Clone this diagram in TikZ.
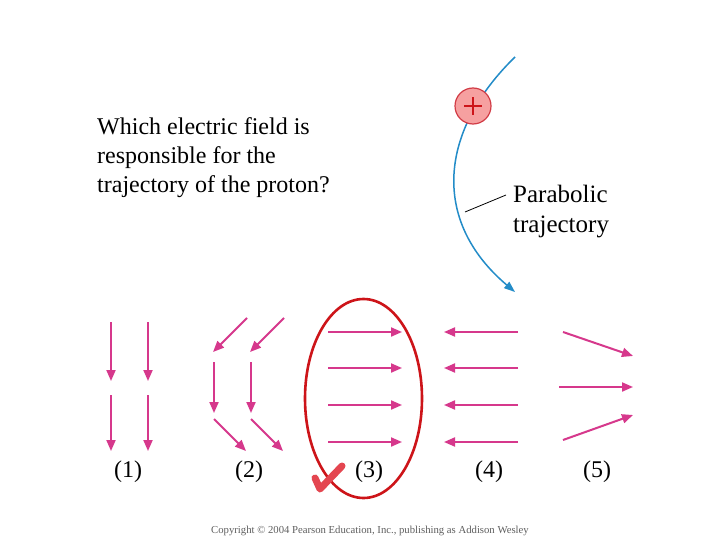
\documentclass[tikz,border=0pt]{standalone}
\usepackage{fontspec}
\setmainfont{Liberation Serif}
\usetikzlibrary{arrows.meta,shapes.geometric}
\definecolor{fieldc}{RGB}{214,56,140}
\definecolor{trajc}{RGB}{35,140,200}
\definecolor{ringc}{RGB}{205,20,25}
\definecolor{protfill}{RGB}{246,160,160}
\definecolor{protline}{RGB}{210,60,70}
\definecolor{checkc}{RGB}{228,70,80}
\definecolor{copyc}{RGB}{95,95,95}
\tikzset{
  fieldarrow/.style={draw=fieldc, line width=2pt, -{Triangle[length=11pt,width=9pt]}},
  lbl/.style={font=\fontsize{24}{29}\selectfont, inner sep=0pt},
}
\begin{document}
\begin{tikzpicture}[x=1pt,y=-1pt]
\useasboundingbox (0,0) rectangle (720,540);
\fill[white] (0,0) rectangle (720,540);

% question
\node[anchor=north west, inner sep=0pt, align=left, font=\fontsize{24}{29}\selectfont] (q) at (97,117)
  {Which electric field is\\responsible for the\\trajectory of the proton?};

% trajectory
\coordinate (tstart) at (515,57);
\coordinate (tend) at (515,292);
\draw[trajc, line width=1.5pt, -{Triangle[length=11pt,width=8pt]}] (tstart) .. controls (440,130) and (430,220) .. (tend);
\node[circle, draw=protline, fill=protfill, line width=1.2pt, minimum size=36pt, inner sep=0pt] (p) at (473,106) {};
\draw[ringc, line width=2.6pt] ([xshift=-9pt]p.center) -- ([xshift=9pt]p.center);
\draw[ringc, line width=2.6pt] ([yshift=-9pt]p.center) -- ([yshift=9pt]p.center);

\node[anchor=north west, inner sep=0pt, align=left, font=\fontsize{25}{30}\selectfont] (para) at (513,185)
  {Parabolic\\trajectory};
\coordinate (ptr) at (465,212);
\draw[black, line width=0.8pt] (ptr) -- (506,195);

% (1)
\foreach \x in {111,148}{
  \draw[fieldarrow] (\x,322) -- (\x,381);
  \draw[fieldarrow] (\x,395) -- (\x,451);
}
% (2)
\foreach \d in {0,37}{
  \draw[fieldarrow] ({247+\d},318) -- ({213+\d},352);
  \draw[fieldarrow] ({214+\d},362) -- ({214+\d},413);
  \draw[fieldarrow] ({214+\d},419) -- ({246+\d},451);
}
% (3)
\foreach \y in {332,368,405,442}{
  \draw[fieldarrow] (328,\y) -- (402,\y);
}
% (4)
\foreach \y in {332,368,405,442}{
  \draw[fieldarrow] (518,\y) -- (444,\y);
}
% (5)
\draw[fieldarrow] (563,332) -- (633,356);
\draw[fieldarrow] (559,387) -- (633,387);
\draw[fieldarrow] (563,440) -- (633,415);

% labels
\node[lbl] (l1) at (128,472) {(1)};
\node[lbl] (l2) at (249,472) {(2)};
\node[lbl] (l3) at (369,472) {(3)};
\node[lbl] (l4) at (489,472) {(4)};
\node[lbl] (l5) at (597,472) {(5)};

% answer ring
\node[ellipse, draw=ringc, line width=2.6pt, minimum width=117pt, minimum height=199pt, inner sep=0pt] (ring) at (363.5,398.5) {};
% check mark
\draw[checkc, line width=7pt, line join=round, line cap=round] (315,478) -- (320,489) -- (342,466);

% copyright
\node[anchor=west, inner sep=0pt, text=copyc, font=\fontsize{10.7}{10.7}\selectfont] (copy) at (211,531)
  {Copyright \textcopyright{} 2004 Pearson Education, Inc., publishing as Addison Wesley};
\end{tikzpicture}
\end{document}
